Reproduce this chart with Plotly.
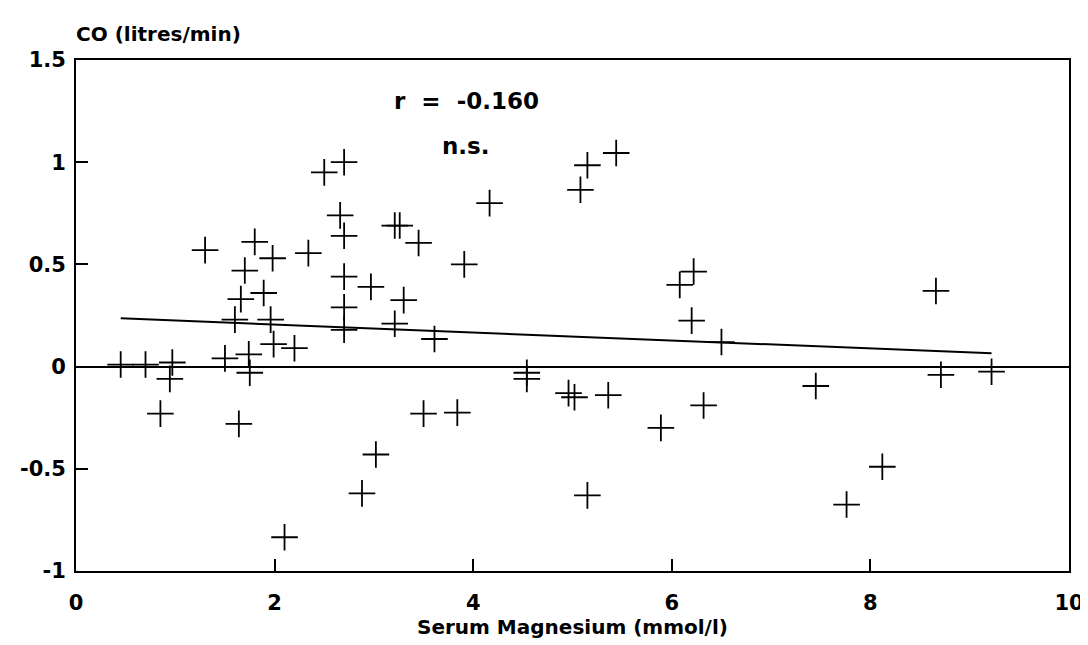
import plotly.graph_objects as go

# Serum magnesium (x) vs change in CO (y)
mg = [2.70, 2.50, 2.66, 2.70, 1.30, 1.80, 1.98, 2.34, 1.70, 2.70,
      1.89, 1.66, 2.70, 1.60, 1.96, 2.70, 1.99, 2.20, 1.74, 1.50,
      0.45, 0.70, 0.97, 0.945, 1.75, 0.85, 1.64, 2.10, 2.88, 3.02,
      3.50, 3.84, 5.44, 5.15, 5.08, 4.165, 3.21, 3.26, 3.45, 3.91,
      2.97, 3.30, 3.21, 3.61, 4.54, 4.54, 4.96, 5.02, 5.36, 5.15,
      5.89, 6.22, 6.08, 6.20, 6.50, 8.66, 7.45, 8.71, 9.22, 6.32,
      8.12, 7.76]
co = [1.00, 0.95, 0.74, 0.64, 0.57, 0.61, 0.53, 0.555, 0.47, 0.44,
      0.36, 0.33, 0.29, 0.23, 0.23, 0.18, 0.11, 0.09, 0.06, 0.04,
      0.01, 0.01, 0.02, -0.06, -0.03, -0.23, -0.28, -0.835, -0.62, -0.43,
      -0.23, -0.225, 1.045, 0.985, 0.865, 0.80, 0.69, 0.69, 0.605, 0.50,
      0.39, 0.325, 0.21, 0.135, -0.03, -0.06, -0.13, -0.15, -0.14, -0.63,
      -0.30, 0.465, 0.40, 0.225, 0.12, 0.37, -0.095, -0.04, -0.025, -0.19,
      -0.49, -0.675]

# regression line end points (as drawn)
fit_x = [0.45, 9.22]
fit_y = [0.236, 0.065]

x_ticks = [0, 2, 4, 6, 8, 10]
x_ticktext = ["0", "2", "4", "6", "8", "10"]
y_ticks = [-1, -0.5, 0, 0.5, 1, 1.5]
y_ticktext = ["-1", "-0.5", "0", "0.5", "1", "1.5"]

FONT = "DejaVu Sans, Liberation Sans, Arial, sans-serif"

fig = go.Figure()
fig.add_trace(go.Scatter(
    x=fit_x, y=fit_y, mode="lines",
    line=dict(color="black", width=2), showlegend=False, hoverinfo="skip"))
fig.add_trace(go.Scatter(
    x=mg, y=co, mode="markers",
    marker=dict(symbol="cross-thin-open", size=19, color="black",
                line=dict(color="black", width=1.8)),
    showlegend=False))

fig.update_layout(
    width=1088, height=645,
    margin=dict(l=66, r=20, t=52, b=82),
    paper_bgcolor="white", plot_bgcolor="white",
    font=dict(family=FONT, size=21, color="black", weight="bold"),
    xaxis=dict(range=[0, 10], tickvals=x_ticks, ticktext=x_ticktext,
               showline=True, mirror=True, linecolor="black", linewidth=1.8,
               ticks="inside", ticklen=12, tickwidth=1.6, tickcolor="black",
               ticklabelstandoff=12,
               tickfont=dict(family=FONT, size=21, weight="bold"),
               showgrid=False, zeroline=False),
    yaxis=dict(range=[-1, 1.5], tickvals=y_ticks, ticktext=y_ticktext,
               showline=True, mirror=True, linecolor="black", linewidth=1.8,
               ticks="inside", ticklen=12, tickwidth=1.6, tickcolor="black",
               ticklabelstandoff=4,
               tickfont=dict(family=FONT, size=21, weight="bold"),
               showgrid=False, zeroline=True, zerolinecolor="black",
               zerolinewidth=1.8),
    annotations=[
        dict(text="CO (litres/min)", xref="paper", yref="paper", x=0, y=1,
             xanchor="left", yanchor="middle", yshift=26, xshift=-2,
             showarrow=False,
             font=dict(family=FONT, size=20, weight="bold")),
        dict(text="Serum Magnesium (mmol/l)", xref="paper", yref="paper",
             x=0.5, y=0, xanchor="center", yanchor="middle", yshift=-56,
             showarrow=False,
             font=dict(family=FONT, size=20, weight="bold")),
        dict(text="r  =  -0.160", xref="x", yref="y", x=3.93, y=1.30,
             showarrow=False, font=dict(family=FONT, size=23, weight="bold")),
        dict(text="n.s.", xref="x", yref="y", x=3.93, y=1.08,
             showarrow=False, font=dict(family=FONT, size=23, weight="bold")),
    ],
)

fig.write_html("out.html")
